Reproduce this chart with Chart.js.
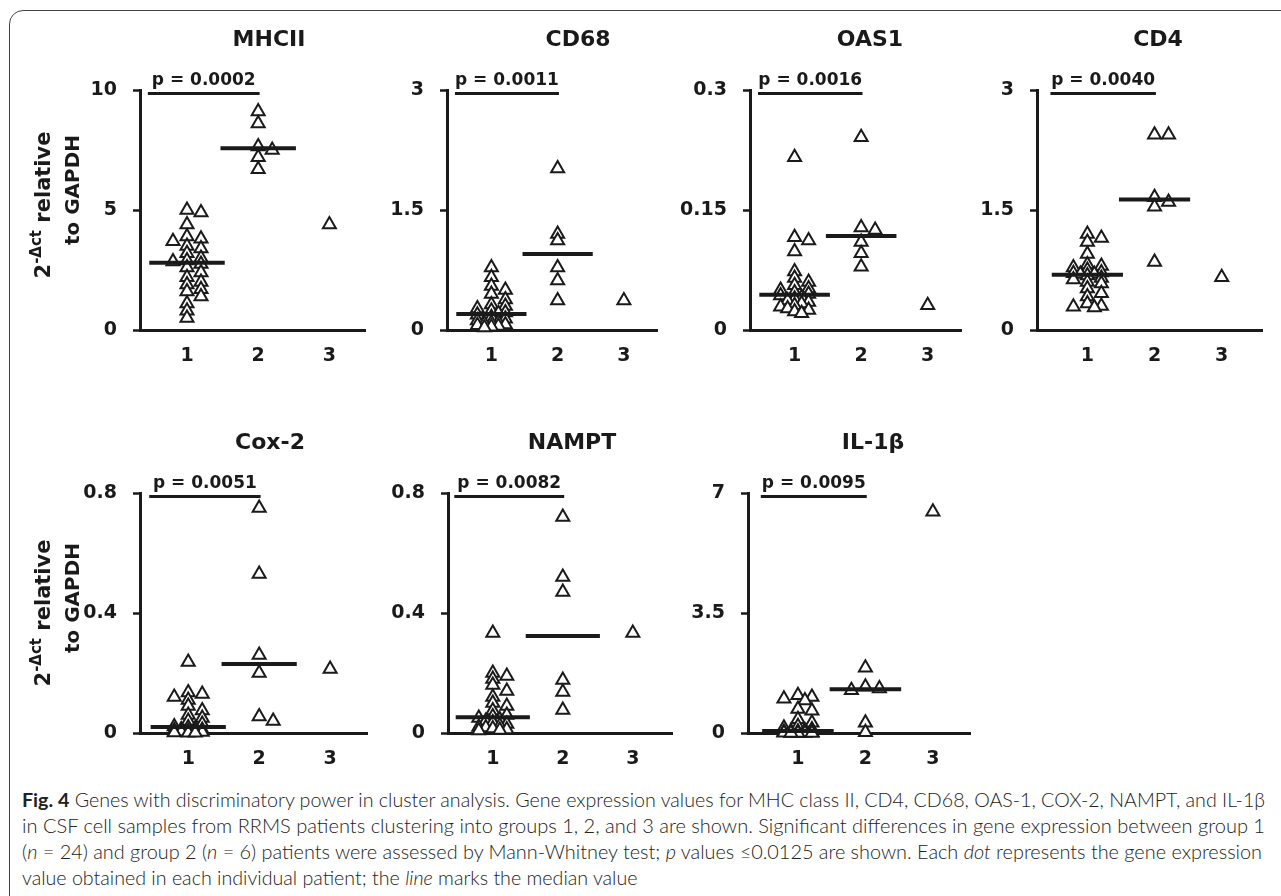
<!DOCTYPE html>
<html>
<head>
<meta charset="utf-8">
<script src="https://cdn.jsdelivr.net/npm/chart.js@4.4.0/dist/chart.umd.min.js"></script>
<style>
  html, body { margin: 0; padding: 0; background: #fff; }
  body { width: 1281px; height: 896px; position: relative; overflow: hidden; font-family: "DejaVu Sans", sans-serif; }
  #frame { position: absolute; left: 9px; top: 10px; width: 1320px; height: 940px; border: 1.5px solid #444; border-radius: 14px; box-sizing: border-box; }
  .panel { position: absolute; }
  .ytitle { position: absolute; font-weight: bold; font-size: 20px; color: #1a1a1a; white-space: nowrap; transform: translate(-50%, -50%) rotate(-90deg); }
  .ytitle.l1 { font-size: 21px; }
  .ytitle sup { font-size: 15px; vertical-align: 9px; line-height: 0; }
  .cl { position: absolute; left: 22px; white-space: nowrap; transform-origin: 0 50%; font-family: Lato, "Open Sans", sans-serif; font-weight: 300; font-size: 19px; line-height: 26px; color: #222; }
  .cl b { font-weight: bold; }
</style>
</head>
<body>
<div id="frame"></div>

<script>
// groups on the x axis
const groups = [1, 2, 3];

const geneNames = ["MHCII", "CD68", "OAS1", "CD4", "Cox-2", "NAMPT", "IL-1β"];
const pLabels = ["p = 0.0002", "p = 0.0011", "p = 0.0016", "p = 0.0040", "p = 0.0051", "p = 0.0082", "p = 0.0095"];

// y tick values per panel
const mhciiTicks = [0, 5, 10];
const cd68Ticks = [0, 1.5, 3];
const oas1Ticks = [0, 0.15, 0.3];
const cd4Ticks = [0, 1.5, 3];
const cox2Ticks = [0, 0.4, 0.8];
const namptTicks = [0, 0.4, 0.8];
const il1bTicks = [0, 3.5, 7];

// 2^-dct values, group 1 / 2 / 3
const mhcii1 = [5.0, 4.9, 4.4, 3.9, 3.8, 3.7, 3.5, 3.4, 3.2, 3.0, 2.9, 2.85, 2.75, 2.6, 2.4, 2.2, 2.0, 1.9, 1.7, 1.6, 1.4, 1.1, 0.8, 0.5];
const mhcii2 = [9.1, 8.6, 7.65, 7.5, 7.2, 6.7];
const mhcii3 = [4.4];

const cd68_1 = [0.78, 0.66, 0.55, 0.5, 0.45, 0.38, 0.32, 0.3, 0.27, 0.24, 0.22, 0.21, 0.19, 0.16, 0.14, 0.12, 0.1, 0.09, 0.08, 0.07, 0.06, 0.05, 0.04, 0.03];
const cd68_2 = [2.02, 1.2, 1.12, 0.78, 0.62, 0.37];
const cd68_3 = [0.37];

const oas1_1 = [0.216, 0.116, 0.112, 0.098, 0.073, 0.065, 0.06, 0.056, 0.052, 0.05, 0.047, 0.045, 0.043, 0.041, 0.039, 0.037, 0.035, 0.033, 0.031, 0.029, 0.027, 0.025, 0.023, 0.021];
const oas1_2 = [0.241, 0.128, 0.125, 0.11, 0.096, 0.079];
const oas1_3 = [0.031];

const cd4_1 = [1.2, 1.15, 1.1, 0.95, 0.82, 0.8, 0.78, 0.75, 0.72, 0.71, 0.7, 0.7, 0.68, 0.65, 0.63, 0.6, 0.58, 0.52, 0.46, 0.42, 0.33, 0.3, 0.29, 0.28];
const cd4_2 = [2.44, 2.44, 1.66, 1.6, 1.54, 0.85];
const cd4_3 = [0.66];

const cox2_1 = [0.237, 0.135, 0.13, 0.12, 0.11, 0.09, 0.075, 0.06, 0.05, 0.04, 0.03, 0.022, 0.018, 0.015, 0.012, 0.01, 0.008, 0.006, 0.005, 0.004, 0.003, 0.002, 0.001, 0.001];
const cox2_2 = [0.75, 0.53, 0.26, 0.2, 0.055, 0.04];
const cox2_3 = [0.213];

const nampt1 = [0.333, 0.2, 0.19, 0.18, 0.16, 0.14, 0.12, 0.1, 0.09, 0.075, 0.06, 0.055, 0.05, 0.045, 0.04, 0.035, 0.03, 0.025, 0.02, 0.018, 0.015, 0.012, 0.01, 0.008];
const nampt2 = [0.72, 0.52, 0.47, 0.177, 0.137, 0.077];
const nampt3 = [0.333];

const il1b_1 = [1.1, 1.05, 1.0, 0.95, 0.7, 0.65, 0.4, 0.3, 0.2, 0.15, 0.1, 0.07, 0.05, 0.04, 0.03, 0.02, 0.02, 0.01, 0.01, 0.01, 0, 0, 0, 0];
const il1b_2 = [1.9, 1.35, 1.3, 1.25, 0.3, 0.02];
const il1b_3 = [6.45];

// layout of each panel (pixels), separate from the data
const panels = [
  { i: 0, g: [mhcii1, mhcii2, mhcii3], ticks: mhciiTicks, ax: 140, w: 225, xMin: 0.34, xMax: 3.5, top: 90, tdx: 129 },
  { i: 1, g: [cd68_1, cd68_2, cd68_3], ticks: cd68Ticks, ax: 447, w: 210, xMin: 0.33, xMax: 3.5, top: 90, tdx: 131 },
  { i: 2, g: [oas1_1, oas1_2, oas1_3], ticks: oas1Ticks, ax: 750, w: 211, xMin: 0.33, xMax: 3.5, top: 90, tdx: 120 },
  { i: 3, g: [cd4_1, cd4_2, cd4_3], ticks: cd4Ticks, ax: 1037, w: 225, xMin: 0.25, xMax: 3.6, top: 90, tdx: 121 },
  { i: 4, g: [cox2_1, cox2_2, cox2_3], ticks: cox2Ticks, ax: 140, w: 227, xMin: 0.32, xMax: 3.52, top: 493, tdx: 130 },
  { i: 5, g: [nampt1, nampt2, nampt3], ticks: namptTicks, ax: 448, w: 224, xMin: 0.36, xMax: 3.56, top: 493, tdx: 124 },
  { i: 6, g: [il1b_1, il1b_2, il1b_3], ticks: il1bTicks, ax: 748, w: 222, xMin: 0.26, xMax: 3.55, top: 493, tdx: 125 }
];

const INK = "#1a1a1a";
const PLOT_H = 240, TOP_PAD = 80, X_H = 44, Y_W = 90, R_PAD = 12;
const FONT = '"DejaVu Sans", sans-serif';

function median(arr) {
  const s = [...arr].sort((a, b) => a - b);
  const m = Math.floor(s.length / 2);
  return s.length % 2 ? s[m] : (s[m - 1] + s[m]) / 2;
}

// spread overlapping points sideways (simple beeswarm, in pixels)
function swarm(vals, g, pxX, pxY) {
  const placed = [];
  const out = new Array(vals.length);
  const order = vals.map((v, i) => i).sort((a, b) => vals[b] - vals[a]);
  const cands = [0, 1, -1, 2, -2];
  for (const i of order) {
    const py = vals[i] * pxY;
    let best = null, bestD = -1;
    for (const k of cands) {
      const px = k * 7;
      let d = Infinity;
      placed.forEach(q => {
        const dx = Math.abs(q.px - px) / 8, dy = Math.abs(q.py - py) / 6;
        d = Math.min(d, Math.max(dx, dy));
      });
      if (d >= 1) { best = px; break; }
      if (d > bestD) { bestD = d; best = px; }
    }
    placed.push({ px: best, py });
    out[i] = { x: g + best / pxX, y: vals[i] };
  }
  return out;
}

const annot = {
  id: "annot",
  afterDatasetsDraw(chart, args, o) {
    const { ctx, chartArea, scales: { x, y } } = chart;
    ctx.save();
    ctx.fillStyle = INK;
    ctx.strokeStyle = INK;
    ctx.textAlign = "center";
    ctx.textBaseline = "alphabetic";
    ctx.font = "bold 22px " + FONT;
    ctx.fillText(o.title, chartArea.left + o.tdx, chartArea.top - 44);

    const yb = y.getPixelForValue(o.yMax * 0.985);
    const x1 = x.getPixelForValue(0.45), x2 = x.getPixelForValue(2.02);
    ctx.lineWidth = 3;
    ctx.beginPath();
    ctx.moveTo(x1, yb);
    ctx.lineTo(x2, yb);
    ctx.stroke();
    ctx.font = "bold 17px " + FONT;
    ctx.fillText(o.p, (x1 + x2) / 2, yb - 9);
    ctx.restore();
  }
};

function makePanel(p) {
  const W = Y_W + p.w + R_PAD, H = TOP_PAD + PLOT_H + X_H;
  const div = document.createElement("div");
  div.className = "panel";
  div.style.left = (p.ax - Y_W) + "px";
  div.style.top = (p.top - TOP_PAD) + "px";
  const cv = document.createElement("canvas");
  cv.width = W;
  cv.height = H;
  div.appendChild(cv);
  document.body.appendChild(div);

  const yMax = p.ticks[p.ticks.length - 1];
  const pxX = p.w / (p.xMax - p.xMin);
  const pxY = PLOT_H / yMax;

  const datasets = [];
  p.g.forEach((vals, gi) => {
    datasets.push({
      type: "scatter",
      data: swarm(vals, groups[gi], pxX, pxY),
      pointStyle: "triangle",
      pointRadius: 7.5,
      pointBorderWidth: 2,
      borderColor: INK,
      backgroundColor: "#fff",
      order: 2,
      clip: false
    });
  });
  // median lines for groups 1 and 2
  [0, 1].forEach(gi => {
    const m = median(p.g[gi]);
    datasets.push({
      type: "line",
      data: [{ x: groups[gi] - 0.53, y: m }, { x: groups[gi] + 0.53, y: m }],
      borderColor: INK,
      borderWidth: 4,
      pointRadius: 0,
      order: 1,
      clip: false
    });
  });

  new Chart(cv, {
    type: "scatter",
    data: { datasets },
    plugins: [annot],
    options: {
      responsive: false,
      animation: false,
      devicePixelRatio: 1,
      events: [],
      layout: { padding: { top: TOP_PAD, right: R_PAD, left: 0, bottom: 0 } },
      plugins: {
        legend: { display: false },
        tooltip: { enabled: false },
        annot: { title: geneNames[p.i], p: pLabels[p.i], tdx: p.tdx, yMax }
      },
      scales: {
        x: {
          type: "linear",
          min: p.xMin,
          max: p.xMax,
          afterBuildTicks: s => { s.ticks = groups.map(v => ({ value: v })); },
          afterFit: s => { s.height = X_H; },
          grid: { display: false, drawTicks: false },
          border: { display: true, width: 3, color: INK },
          ticks: { color: INK, font: { family: FONT, size: 19, weight: "bold" }, padding: 15, callback: v => String(v), maxRotation: 0 }
        },
        y: {
          type: "linear",
          min: 0,
          max: yMax,
          afterBuildTicks: s => { s.ticks = p.ticks.map(v => ({ value: v })); },
          afterFit: s => { s.width = Y_W; },
          grid: { display: true, drawOnChartArea: false, drawTicks: true, tickLength: 7, tickWidth: 2.5, tickColor: INK },
          border: { display: true, width: 3, color: INK },
          ticks: { color: INK, font: { family: FONT, size: 19, weight: "bold" }, padding: 16, callback: v => String(v) }
        }
      }
    }
  });
}

panels.forEach(makePanel);

// y axis titles for the left column
[205, 613].forEach(cy => {
  const a = document.createElement("div");
  a.className = "ytitle l1";
  a.innerHTML = "2<sup>-Δct</sup> relative";
  a.style.left = "43px";
  a.style.top = cy + "px";
  document.body.appendChild(a);
  const b = document.createElement("div");
  b.className = "ytitle";
  b.textContent = "to GAPDH";
  b.style.left = "72px";
  b.style.top = (cy - 15) + "px";
  document.body.appendChild(b);
});

// caption, four lines as in the figure
const captionLines = [
  "<b>Fig. 4</b> Genes with discriminatory power in cluster analysis. Gene expression values for MHC class II, CD4, CD68, OAS-1, COX-2, NAMPT, and IL-1β",
  "in CSF cell samples from RRMS patients clustering into groups 1, 2, and 3 are shown. Significant differences in gene expression between group 1",
  "(<i>n</i> = 24) and group 2 (<i>n</i> = 6) patients were assessed by Mann-Whitney test; <i>p</i> values ≤0.0125 are shown. Each <i>dot</i> represents the gene expression",
  "value obtained in each individual patient; the <i>line</i> marks the median value"
];
const capWidths = [1243, 1243, 1240, null];
let firstScale = 1;
captionLines.forEach((t, k) => {
  const d = document.createElement("div");
  d.className = "cl";
  d.innerHTML = t;
  d.style.top = (787 + k * 26) + "px";
  document.body.appendChild(d);
  const w = d.getBoundingClientRect().width;
  const sc = capWidths[k] ? capWidths[k] / w : firstScale;
  if (k === 0) firstScale = sc;
  d.style.transform = "scaleX(" + sc + ")";
});
</script>
</body>
</html>
